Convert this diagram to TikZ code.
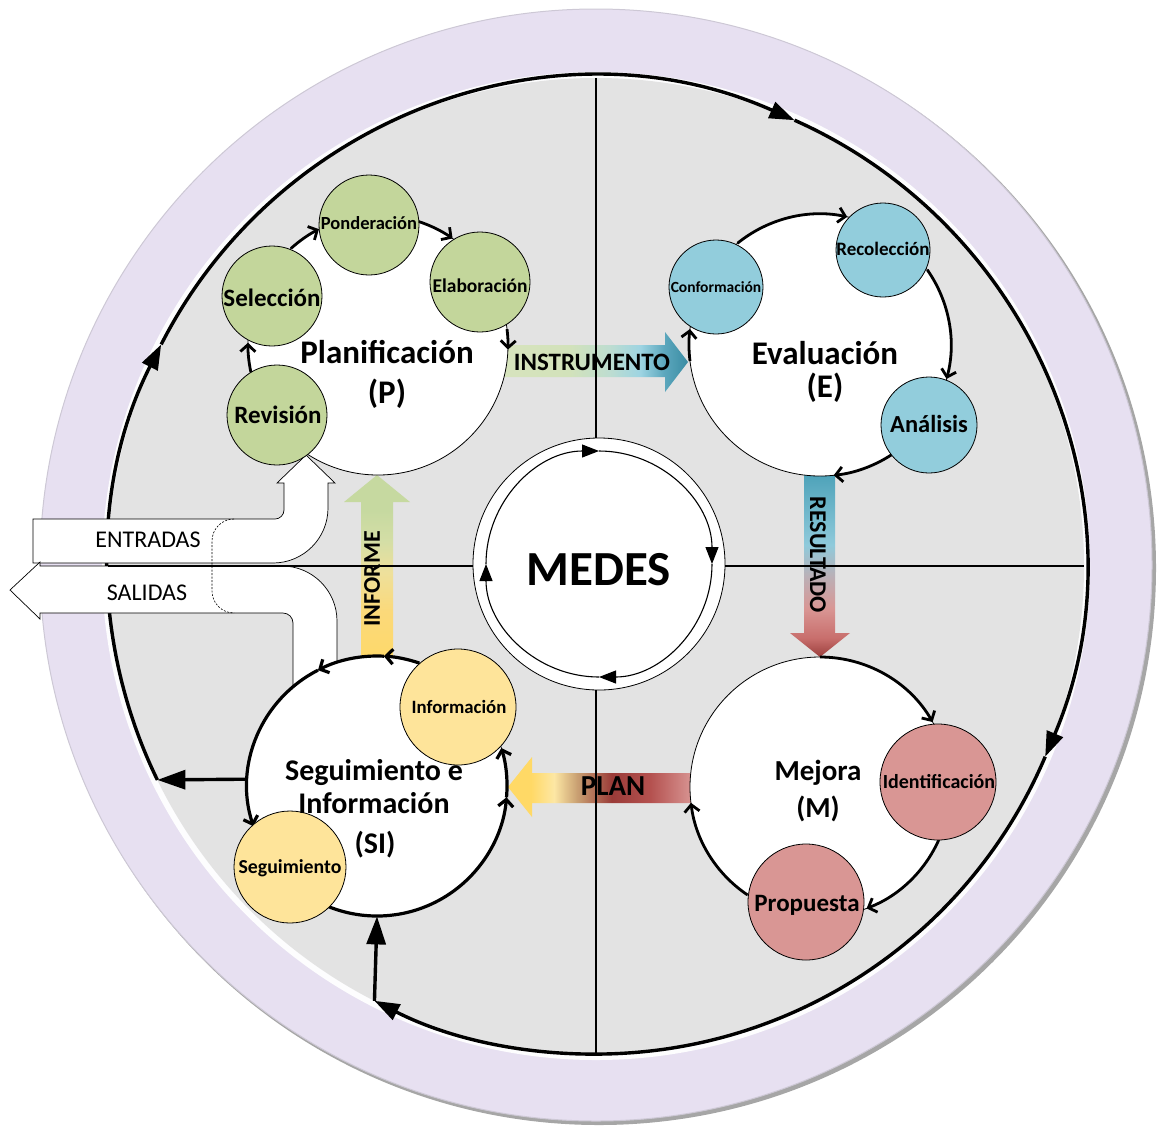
\documentclass[tikz,border=0pt]{standalone}
\usepackage{fontspec}
\setmainfont{Carlito}
\usetikzlibrary{arrows.meta}
\definecolor{lav}{HTML}{E7E0F1}
\definecolor{grayd}{HTML}{E3E3E3}
\definecolor{cgreen}{HTML}{C3D69B}
\definecolor{cblue}{HTML}{92CDDC}
\definecolor{cred}{HTML}{D99694}
\definecolor{cyellow}{HTML}{FEE49A}
% INSTRUMENTO
\definecolor{iA}{HTML}{D8E4BE}\definecolor{iB}{HTML}{D2E2BA}\definecolor{iC}{HTML}{BEDDD0}
\definecolor{iD}{HTML}{9DD4E2}\definecolor{iE}{HTML}{5CA7BD}\definecolor{iF}{HTML}{3A8CA3}
\pgfdeclarehorizontalshading{instrshade}{100bp}{color(0bp)=(iA); color(25bp)=(iA); color(45bp)=(iB); color(55bp)=(iC); color(63bp)=(iD); color(69bp)=(iE); color(75bp)=(iF); color(100bp)=(iF)}
% RESULTADO (bottom = 25bp)
\definecolor{rA}{HTML}{9A3E3C}\definecolor{rB}{HTML}{C86E6C}\definecolor{rC}{HTML}{D99694}
\definecolor{rD}{HTML}{BDAEB4}\definecolor{rE}{HTML}{8FCADB}\definecolor{rF}{HTML}{4AA0B7}
\pgfdeclareverticalshading{resshade}{100bp}{color(0bp)=(rA); color(25bp)=(rA); color(30bp)=(rB); color(38bp)=(rC); color(46bp)=(rD); color(55bp)=(rE); color(75bp)=(rF); color(100bp)=(rF)}
% INFORME (bottom = 25bp)
\definecolor{fA}{HTML}{FFD966}\definecolor{fB}{HTML}{FBD97A}\definecolor{fC}{HTML}{EEE09B}
\definecolor{fD}{HTML}{D4DEA6}\definecolor{fE}{HTML}{C6D9A0}
\pgfdeclareverticalshading{infshade}{100bp}{color(0bp)=(fA); color(25bp)=(fA); color(40bp)=(fB); color(50bp)=(fC); color(58bp)=(fD); color(66bp)=(fE); color(75bp)=(fE); color(100bp)=(fE)}
% PLAN
\definecolor{pA}{HTML}{FFD966}\definecolor{pB}{HTML}{FDE7A4}\definecolor{pC}{HTML}{C9A072}
\definecolor{pD}{HTML}{9A3B38}\definecolor{pE}{HTML}{B4514F}\definecolor{pF}{HTML}{D58F8D}
\pgfdeclarehorizontalshading{planshade}{100bp}{color(0bp)=(pA); color(25bp)=(pA); color(31bp)=(pA); color(37bp)=(pB); color(43bp)=(pC); color(52bp)=(pD); color(62bp)=(pE); color(72bp)=(pF); color(100bp)=(pF)}
\begin{document}
\begin{tikzpicture}[x=1pt,y=-1pt,
  bigc/.style={circle,draw=black,line width=0.8pt,fill=white,inner sep=0pt},
  smc/.style={circle,draw=black,line width=0.8pt,inner sep=0pt},
  cyc/.style={line width=2.8pt,-{Straight Barb[length=7pt,width=15pt]}},
  cycsi/.style={line width=3.2pt,-{Straight Barb[length=7pt,width=15pt]}},
  outerarc/.style={line width=3.4pt,-{Triangle[length=25pt,width=17pt]}},
  outerarr/.style={line width=3.4pt,-{Triangle[length=28pt,width=19pt]}},
  medarc/.style={line width=1.1pt,-{Triangle[length=17pt,width=13pt]}},
  lbl/.style={anchor=base,inner sep=0pt},
  band/.style={fill=white,draw=black,line width=0.7pt},
]
\useasboundingbox (0,0) rectangle (1158,1128);

% outer lavender ring
\fill[gray!70] (599,568) circle[radius=557];
\node[circle,fill=lav,draw=lav!75!gray,line width=1pt,minimum size=1112pt,inner sep=0pt] (L) at (596,565) {};
\fill[white!94!lav] (596,566) circle[radius=494];
\node[circle,fill=grayd,minimum size=976pt,inner sep=0pt] (G) at (596,566) {};

% outer cycle arcs
\draw[outerarc] ([shift={(154:488)}]G.center) arc[start angle=154,end angle=207,radius=488];
\draw[outerarc] ([shift={(207:488)}]G.center) arc[start angle=207,end angle=294,radius=488];
\draw[outerarc] ([shift={(294:488)}]G.center) arc[start angle=294,end angle=383,radius=488];
\draw[outerarc] ([shift={(383:488)}]G.center) arc[start angle=383,end angle=477,radius=488];
\coordinate (K) at ([shift={(154:488)}]G.center);
\coordinate (J) at ([shift={(117:488)}]G.center);

% block arrows
\shade[shading=instrshade] (490,345) -- (665,345) -- (665,332) -- (688,362) -- (665,392) -- (665,377) -- (490,377) -- cycle;
\shade[shading=resshade] (804,470) -- (835,470) -- (835,633) -- (850,633) -- (820,657) -- (790,633) -- (804,633) -- cycle;
\shade[shading=infshade] (361,670) -- (361,502) -- (344,502) -- (377,475) -- (410,502) -- (393,502) -- (393,670) -- cycle;
\shade[shading=planshade] (700,773) -- (532,773) -- (532,757) -- (508,787) -- (532,817) -- (532,803) -- (700,803) -- cycle;

% big circles
\node[bigc,minimum size=260pt] (P) at (378,345) {};
\node[bigc,minimum size=262pt] (E) at (820,345) {};
\node[bigc,minimum size=260pt] (M) at (820,787) {};

% ENTRADAS / SALIDAS
\draw[band] (33,519) -- (275,519) arc[start angle=90,end angle=0,radius=9] -- (284,483) -- (277,483) -- (306,455) -- (335,483) -- (328,483) -- (328,508) arc[start angle=0,end angle=90,radius=55] -- (33,563) -- cycle;
\draw[band] (10,590) -- (40,562) -- (40,566) -- (282,566) arc[start angle=-90,end angle=0,radius=55] -- (337,700) -- (293,700) -- (293,623) arc[start angle=0,end angle=-90,radius=10] -- (40,613) -- (40,619) -- cycle;
\draw[line width=0.6pt,dash pattern=on 2pt off 1.5pt] (234,519) arc[start angle=-90,end angle=-180,radius=22] -- (212,591) arc[start angle=180,end angle=90,radius=22];

% quadrant lines
\draw[line width=2.4pt] (G.north) -- (G.south);
\draw[line width=2.4pt] (G.west) -- (G.east);

% MEDES
\node[bigc,minimum size=252pt] (medes) at (599,564) {};
\draw[medarc] ([shift={(180:113)}]medes.center) arc[start angle=180,end angle=270,radius=113];
\draw[medarc] ([shift={(270:113)}]medes.center) arc[start angle=270,end angle=360,radius=113];
\draw[medarc] ([shift={(0:113)}]medes.center) arc[start angle=0,end angle=90,radius=113];
\draw[medarc] ([shift={(90:113)}]medes.center) arc[start angle=90,end angle=180,radius=113];

% SI circle
\node[bigc,minimum size=260pt] (SI) at (377,786) {};

% cycle arcs P
\draw[cyc] ([shift={(-132:130)}]P.center) arc[start angle=-132,end angle=-117,radius=130];
\draw[cyc] ([shift={(-72:130)}]P.center) arc[start angle=-72,end angle=-55,radius=130];
\draw[cyc] ([shift={(-7:130)}]P.center) arc[start angle=-7,end angle=2,radius=130];
\draw[cyc] ([shift={(168:130)}]P.center) arc[start angle=168,end angle=181,radius=130];
% cycle arcs E
\draw[cyc] ([shift={(-129:131)}]E.center) arc[start angle=-129,end angle=-78,radius=131];
\draw[cyc] ([shift={(-35:131)}]E.center) arc[start angle=-35,end angle=15,radius=131];
\draw[cyc] ([shift={(57:131)}]E.center) arc[start angle=57,end angle=84,radius=131];
\draw[cyc] ([shift={(173:131)}]E.center) arc[start angle=173,end angle=187,radius=131];
% cycle arcs M
\draw[cyc] ([shift={(-90:130)}]M.center) arc[start angle=-90,end angle=-30,radius=130];
\draw[cyc] ([shift={(24:130)}]M.center) arc[start angle=24,end angle=69,radius=130];
\draw[cyc] ([shift={(124:130)}]M.center) arc[start angle=124,end angle=173,radius=130];
% cycle arcs SI
\draw[cycsi] ([shift={(-71:130)}]SI.center) arc[start angle=-71,end angle=-87,radius=130];
\draw[cycsi] ([shift={(-87:130)}]SI.center) arc[start angle=-87,end angle=-117,radius=130];
\draw[cycsi] ([shift={(-117:130)}]SI.center) arc[start angle=-117,end angle=-198,radius=130];
\draw[cycsi] ([shift={(112:130)}]SI.center) arc[start angle=112,end angle=5,radius=130];
\draw[cycsi] ([shift={(5:130)}]SI.center) arc[start angle=5,end angle=-17,radius=130];

% small circles
\node[smc,fill=cgreen,minimum size=100pt] (sel) at (272,296) {};
\node[smc,fill=cgreen,minimum size=100pt] (pon) at (369,225) {};
\node[smc,fill=cgreen,minimum size=100pt] (ela) at (480,282) {};
\node[smc,fill=cgreen,minimum size=100pt] (rev) at (277,415) {};
\node[smc,fill=cblue,minimum size=94pt] (con) at (716,287) {};
\node[smc,fill=cblue,minimum size=94pt] (rec) at (883,250) {};
\node[smc,fill=cblue,minimum size=96pt] (ana) at (929,425) {};
\node[smc,fill=cred,minimum size=116pt] (ide) at (938,782) {};
\node[smc,fill=cred,minimum size=116pt] (pro) at (806,902) {};
\node[smc,fill=cyellow,minimum size=116pt] (inf) at (458,707) {};
\node[smc,fill=cyellow,minimum size=112pt] (seg) at (290,867) {};

% small labels
\node[lbl,font=\bfseries\fontsize{18.5}{20}\selectfont] (tpon) at (369,229) {Ponderación};
\node[lbl,font=\bfseries\fontsize{19.5}{21}\selectfont] (tela) at (480,292) {Elaboración};
\node[lbl,font=\bfseries\fontsize{25}{27}\selectfont] (tsel) at (272,306) {Selección};
\node[lbl,font=\bfseries\fontsize{25}{27}\selectfont] (trev) at (278,423) {Revisión};
\node[lbl,font=\bfseries\fontsize{15.5}{17}\selectfont] (tcon) at (716,292) {Conformación};
\node[lbl,font=\bfseries\fontsize{19}{21}\selectfont] (trec) at (883,255) {Recolección};
\node[lbl,font=\bfseries\fontsize{24.5}{26}\selectfont] (tana) at (929,432) {Análisis};
\node[lbl,font=\bfseries\fontsize{20}{22}\selectfont] (tide) at (939,788) {Identificación};
\node[lbl,font=\bfseries\fontsize{25}{27}\selectfont] (tpro) at (807,911) {Propuesta};
\node[lbl,font=\bfseries\fontsize{18.8}{20}\selectfont] (tinf) at (459,713) {Información};
\node[lbl,font=\bfseries\fontsize{19.8}{21}\selectfont] (tseg) at (290,873) {Seguimiento};

% big labels
\node[lbl,font=\bfseries\fontsize{33}{36}\selectfont] (tP1) at (387,363) {Planificación};
\node[lbl,font=\bfseries\fontsize{33}{36}\selectfont] (tP2) at (387,403) {(P)};
\node[lbl,font=\bfseries\fontsize{33}{36}\selectfont] (tE1) at (825,364) {Evaluación};
\node[lbl,font=\bfseries\fontsize{33}{36}\selectfont] (tE2) at (825,397) {(E)};
\node[lbl,font=\bfseries\fontsize{29}{32}\selectfont] (tM1) at (818,780) {Mejora};
\node[lbl,font=\bfseries\fontsize{29}{32}\selectfont] (tM2) at (818,817) {(M)};
\node[lbl,font=\bfseries\fontsize{30}{33}\selectfont] (tS1) at (374,780) {Seguimiento e};
\node[lbl,font=\bfseries\fontsize{30}{33}\selectfont] (tS2) at (374,813) {Información};
\node[lbl,font=\bfseries\fontsize{30}{33}\selectfont] (tS3) at (375,853) {(SI)};
\node[lbl,font=\bfseries\fontsize{49}{52}\selectfont] (tmed) at (599,585) {MEDES};
\node[lbl,font=\bfseries\fontsize{25}{27}\selectfont] (tins) at (592,370) {INSTRUMENTO};
\node[lbl,font=\bfseries\fontsize{29}{31}\selectfont] (tplan) at (613,795) {PLAN};
\node[inner sep=0pt,rotate=-90,font=\bfseries\fontsize{24}{26}\selectfont] (tres) at (818,555) {RESULTADO};
\node[inner sep=0pt,rotate=90,font=\bfseries\fontsize{24}{26}\selectfont] (tinfo) at (372,579) {INFORME};
\node[lbl,font=\fontsize{24}{26}\selectfont] (tent) at (148,547) {ENTRADAS};
\node[lbl,font=\fontsize{24}{26}\selectfont] (tsal) at (147,600) {SALIDAS};

% links between SI and the outer cycle
\draw[outerarr] (SI.177) -- (K);
\draw[outerarr] (J) -- (SI.south);
\end{tikzpicture}
\end{document}
